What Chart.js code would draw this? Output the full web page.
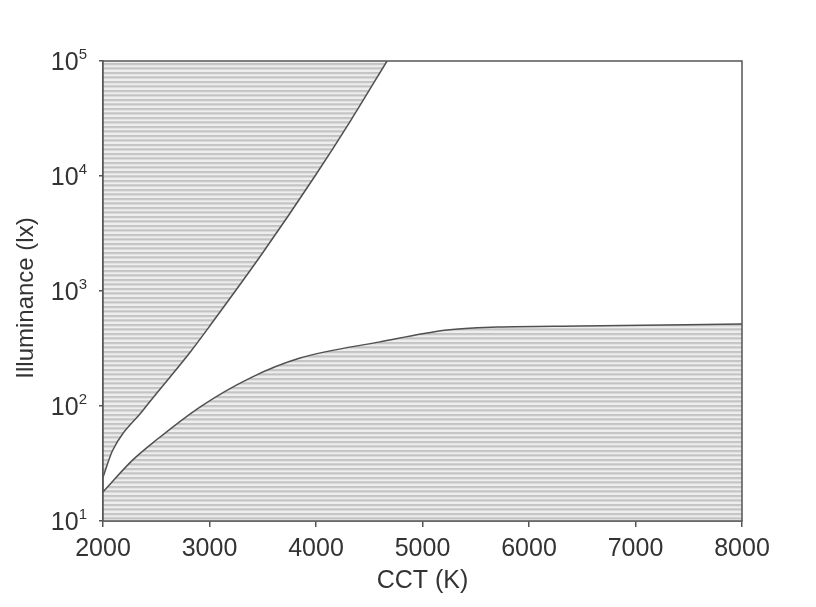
<!DOCTYPE html>
<html>
<head>
<meta charset="utf-8">
<script src="https://cdn.jsdelivr.net/npm/chart.js@4/dist/chart.umd.min.js"></script>
<style>
html,body{margin:0;padding:0;background:#fff;}
#wrap{width:816px;height:607px;position:relative;}
</style>
</head>
<body>
<div id="wrap"><canvas id="c" width="816" height="607"></canvas></div>
<script>
// ---- data ----
const upperCCT = [2000, 2090, 2376, 2820, 3000, 3500, 4000, 4330, 4667];
const upperLux = [24, 41, 92, 295, 493, 2150, 10300, 30800, 100000];
const lowerCCT = [2000, 2280, 2500, 2910, 3380, 3850, 4600, 5230, 5700, 6480, 8000];
const lowerLux = [17.9, 34, 50.6, 98, 175, 261, 361, 458, 486, 497, 516];
const xTicks = [2000, 3000, 4000, 5000, 6000, 7000, 8000];
const yTickExps = [1, 2, 3, 4, 5];
const xTitle = 'CCT (K)';
const yTitle = 'Illuminance (lx)';

const FONT = '"Liberation Sans", Arial, sans-serif';

// hatch pattern (horizontal stripes)
const pc = document.createElement('canvas');
pc.width = 4; pc.height = 9;
const pctx = pc.getContext('2d');
const rows = ['#c3c3c3','#c8c8c8','#e2e2e2','#eeeeee','#d0d0d0','#c3c3c3','#dadada','#ededed','#eeeeee'];
rows.forEach((c,i)=>{pctx.fillStyle=c;pctx.fillRect(0,i,4,1);});
const ctx = document.getElementById('c').getContext('2d');
const hatch = ctx.createPattern(pc, 'repeat');

const toPts = (xs, ys) => xs.map((x,i)=>({x:x, y:ys[i]}));

const framePlugin = {
  id: 'frame',
  afterDatasetsDraw(chart) {
    const {ctx, chartArea: a} = chart;
    ctx.save();
    ctx.strokeStyle = '#555';
    ctx.lineWidth = 1.5;
    ctx.strokeRect(a.left, a.top, a.right - a.left, a.bottom - a.top);
    ctx.restore();
  },
  afterDraw(chart) {
    const {ctx} = chart;
    const ys = chart.scales.y;
    ctx.save();
    ctx.fillStyle = '#333';
    ctx.textBaseline = 'alphabetic';
    yTickExps.forEach(e => {
      const py = ys.getPixelForValue(Math.pow(10, e));
      const sup = String(e);
      ctx.font = '15px ' + FONT;
      const sw = ctx.measureText(sup).width;
      const right = 87;
      ctx.textAlign = 'right';
      ctx.fillText(sup, right, py - 2);
      ctx.font = '25px ' + FONT;
      ctx.fillText('10', right - sw, py + 9);
    });
    // y axis title
    ctx.translate(26, 298);
    ctx.rotate(-Math.PI / 2);
    ctx.textAlign = 'center';
    ctx.textBaseline = 'middle';
    ctx.font = '24px ' + FONT;
    ctx.fillText(yTitle, 0, 0);
    ctx.restore();
  }
};

new Chart(ctx, {
  type: 'line',
  data: {
    datasets: [
      {
        data: toPts(upperCCT, upperLux),
        borderColor: '#505050',
        borderWidth: 1.5,
        backgroundColor: hatch,
        fill: 'end',
        pointRadius: 0,
        cubicInterpolationMode: 'monotone'
      },
      {
        data: toPts(lowerCCT, lowerLux),
        borderColor: '#505050',
        borderWidth: 1.5,
        backgroundColor: hatch,
        fill: 'start',
        pointRadius: 0,
        cubicInterpolationMode: 'monotone'
      }
    ]
  },
  options: {
    responsive: false,
    animation: false,
    layout: {padding: {left: 0, right: 74, top: 61, bottom: 0}},
    plugins: {legend: {display: false}, tooltip: {enabled: false}},
    scales: {
      x: {
        type: 'linear',
        min: 2000, max: 8000,
        afterBuildTicks: s => { s.ticks = xTicks.map(v => ({value: v})); },
        afterFit: s => { s.height = 86; },
        ticks: {
          color: '#333',
          font: {family: FONT, size: 25},
          padding: 7,
          maxRotation: 0,
          autoSkip: false,
          callback: v => String(v)
        },
        grid: {display: true, drawOnChartArea: false, drawTicks: true, tickLength: 6, color: '#555', lineWidth: 1.5},
        border: {display: true, color: '#555', width: 1.5},
        title: {
          display: true, text: xTitle, color: '#333',
          font: {family: FONT, size: 25},
          padding: {top: 0, bottom: 11}
        }
      },
      y: {
        type: 'logarithmic',
        min: 10, max: 100000,
        afterBuildTicks: s => { s.ticks = yTickExps.map(e => ({value: Math.pow(10, e)})); },
        afterFit: s => { s.width = 103; },
        ticks: {display: false},
        grid: {display: true, drawOnChartArea: false, drawTicks: true, tickLength: 4, color: '#555', lineWidth: 1.5},
        border: {display: true, color: '#555', width: 1.5},
        title: {display: false}
      }
    }
  },
  plugins: [framePlugin]
});
</script>
</body>
</html>
